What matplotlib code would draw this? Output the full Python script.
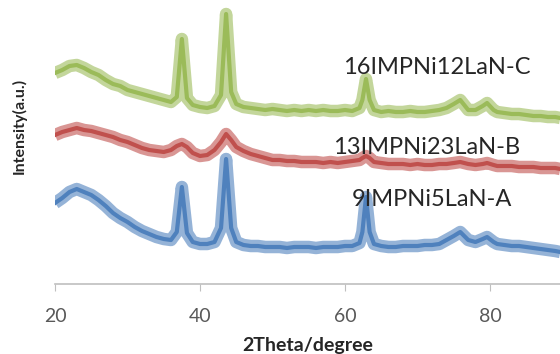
import matplotlib
matplotlib.use("Agg")
import matplotlib.pyplot as plt

# 2theta positions (degrees), denser around the diffraction peaks
two_theta = [20, 21, 22, 23, 24, 25, 26, 27, 28, 29, 30, 31, 32, 33, 34, 35, 36,
             36.8, 37.5, 38.2, 39, 40, 41, 42, 42.9, 43.6, 44.3,
             45, 46, 47, 48, 49, 50, 51, 52, 53, 54, 55, 56, 57, 58, 59, 60, 61, 62,
             62.4, 62.9, 63.4, 64, 65, 66, 67, 68, 69, 70, 71, 72, 73, 74, 75,
             75.9, 77, 78, 79, 79.6, 80.5, 81, 82, 83, 84, 85, 86, 87, 88, 89, 89.7]

# intensities (a.u., stacked patterns)
int_C = [211, 214, 218, 219, 216, 212, 209, 204, 200, 198, 194, 192, 190, 188, 186, 184, 182,
         187, 245, 186, 179, 177, 176, 178, 189, 270, 192,
         180, 177, 176, 175, 174, 175, 174, 173, 174, 173, 174, 173, 174, 173, 173, 174, 173, 176,
         184, 205, 184, 174, 172, 173, 172, 172, 173, 172, 172, 173, 174, 176, 180,
         184, 174, 174, 178, 181, 174, 172, 171, 170, 170, 169, 168, 168, 167, 167, 166]

int_B = [149, 152, 154, 156, 154, 153, 151, 149, 147, 144, 142, 139, 136, 134, 133, 132, 134,
         138, 140, 137, 131, 128, 129, 134, 142, 150, 144,
         137, 133, 130, 128, 126, 124, 124, 123, 123, 122, 122, 122, 121, 122, 121, 122, 123, 124,
         126, 128, 126, 122, 121, 120, 120, 120, 119, 120, 119, 119, 120, 120, 121,
         122, 120, 119, 120, 121, 119, 118, 118, 118, 117, 117, 117, 116, 116, 116, 115]

int_A = [81, 86, 92, 95, 92, 89, 84, 78, 71, 66, 62, 57, 53, 50, 47, 45, 44,
         52, 97, 51, 42, 40, 40, 42, 56, 125, 56,
         42, 39, 38, 38, 37, 37, 37, 36, 37, 37, 37, 36, 37, 37, 37, 38, 38, 41,
         52, 87, 52, 40, 38, 37, 37, 38, 38, 38, 39, 39, 40, 44, 48,
         52, 44, 42, 45, 47, 42, 40, 39, 38, 38, 37, 36, 35, 34, 33, 32]

labels = ["16IMPNi12LaN-C", "13IMPNi23LaN-B", "9IMPNi5LaN-A"]
label_pos = [(72.7, 217), (71.3, 136), (72.0, 85)]
xticks = [20, 40, 60, 80]

plt.rcParams['font.family'] = ['Lato', 'DejaVu Sans']

fig = plt.figure(figsize=(5.6, 3.54), dpi=100)
ax = fig.add_axes([55/560, 1-284/354, 505/560, 284/354])

for y, c in [(int_C, "#9bbb59"), (int_B, "#c0504d"), (int_A, "#4f81bd")]:
    # wide translucent band for the noise, thin core line on top
    ax.plot(two_theta, y, color=c, lw=9, alpha=0.6, solid_joinstyle="round",
            solid_capstyle="butt")
    ax.plot(two_theta, y, color=c, lw=3, solid_joinstyle="round")

for txt, (x, y) in zip(labels, label_pos):
    ax.text(x, y, txt, ha="center", va="center", fontsize=17, color="#262626")

ax.set_xlim(20, 89.66)
ax.set_ylim(0, 284)
ax.set_xticks(xticks)
ax.set_yticks([])
for s in ["top", "right", "left"]:
    ax.spines[s].set_visible(False)
ax.spines["bottom"].set_color("#bfbfbf")
ax.spines["bottom"].set_linewidth(1.2)
ax.tick_params(axis="x", direction="out", length=5, color="#bfbfbf", pad=12,
               labelsize=14, labelcolor="#595959")

ax.set_xlabel("2Theta/degree", fontsize=14, fontweight="bold", color="#262626")
ax.xaxis.set_label_coords(0.5, -0.185)
ax.set_ylabel("Intensity(a.u.)", fontsize=11.5, fontweight="bold", color="#262626")
ax.yaxis.set_label_coords(-0.055, 0.556)

fig.savefig("out.png", dpi=100)
